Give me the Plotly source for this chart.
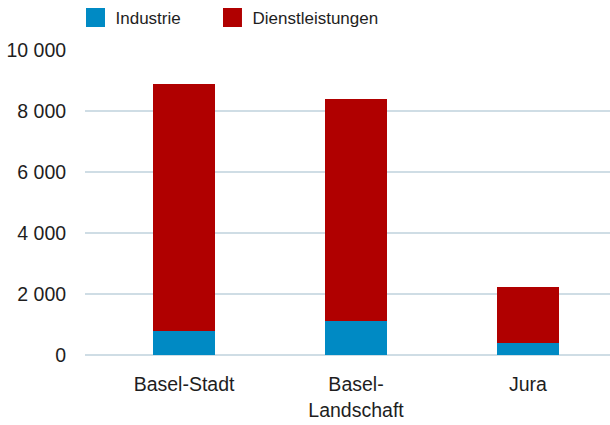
import plotly.graph_objects as go

categories = ["Basel-Stadt", "Basel-<br>Landschaft", "Jura"]
industrie = [790, 1115, 395]
dienstleistungen = [8085, 7290, 1845]
series_names = ["Industrie", "Dienstleistungen"]
series_colors = ["#008ac4", "#b00000"]
y_ticks = [0, 2000, 4000, 6000, 8000, 10000]

fig = go.Figure()
for vals, name, color in zip([industrie, dienstleistungen], series_names, series_colors):
    fig.add_trace(go.Bar(x=categories, y=vals, name=name, showlegend=False,
                         marker=dict(color=color, line=dict(width=0))))

# legend entries with larger square swatches
for i, (name, color) in enumerate(zip(series_names, series_colors)):
    fig.add_trace(go.Scatter(x=[None], y=[None], mode="markers", name=name,
                             legend="legend" if i == 0 else "legend2",
                             marker=dict(symbol="square", size=17, color=color,
                                         line=dict(color=color, width=3))))

legend_common = dict(orientation="h", yanchor="middle", y=1.105, xanchor="left",
                     font=dict(size=17), bgcolor="rgba(0,0,0,0)", itemsizing="trace")

fig.update_layout(
    barmode="stack",
    bargap=0.64,
    width=610, height=425,
    margin=dict(l=85, r=0, t=50, b=70, autoexpand=False),
    paper_bgcolor="white", plot_bgcolor="white",
    separators=", ",
    font=dict(family="Liberation Sans, Arial, sans-serif", color="#1e1e1e", size=19.5),
    showlegend=True,
    legend=dict(x=-0.0181, **legend_common),
    legend2=dict(x=0.2428, **legend_common),
    xaxis=dict(range=[-0.576, 2.477], showgrid=False, showline=False, zeroline=False,
               automargin=False,
               ticks="outside", ticklen=12, tickcolor="rgba(0,0,0,0)"),
    yaxis=dict(range=[0, 10000], tickvals=y_ticks, tickformat=",d", automargin=False,
               showgrid=True, gridcolor="#cfdde5", gridwidth=1.5,
               zeroline=True, zerolinecolor="#cfdde5", zerolinewidth=1.5,
               showline=False, ticks="outside", ticklen=14, tickcolor="rgba(0,0,0,0)"),
)

fig.write_html("out.html", config={"displayModeBar": False},
               post_script="document.body.style.margin='0';document.body.style.overflow='hidden';")
